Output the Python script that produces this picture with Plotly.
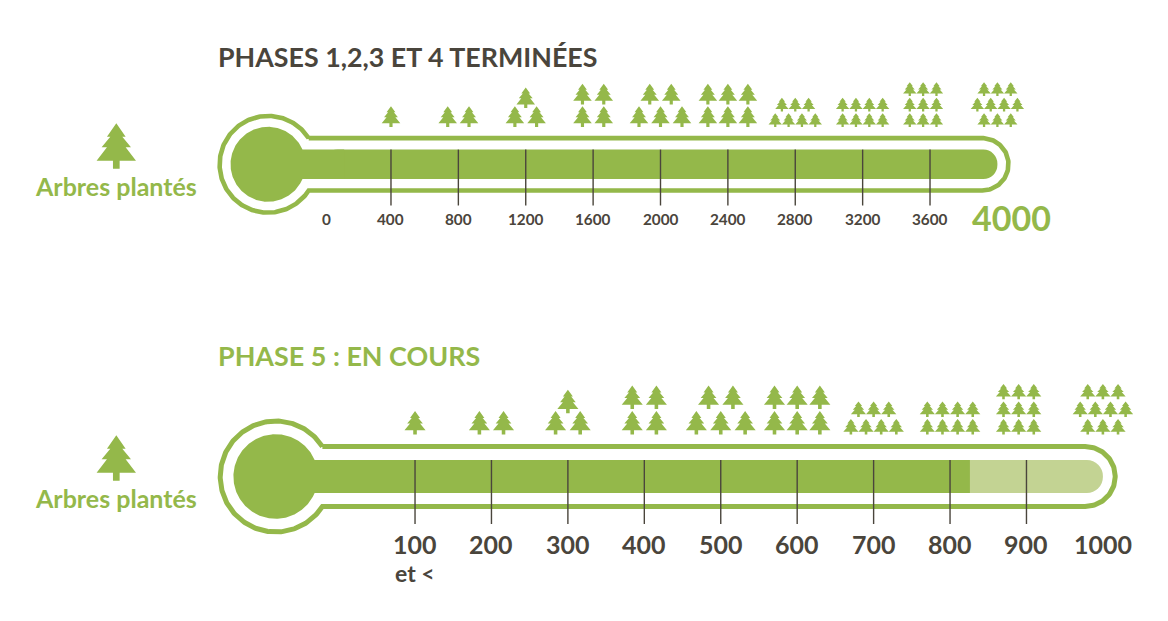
import numpy as np
import plotly.graph_objects as go

GREEN = "#94b84a"
LIGHT = "#c3d393"
DARK = "#4a453c"
FONT = "Lato"

title_top = "PHASES 1,2,3 ET 4 TERMINÉES"
title_bottom = "PHASE 5 : EN COURS"
unit_label = "Arbres plantés"

ticks_top = [400, 800, 1200, 1600, 2000, 2400, 2800, 3200, 3600]
labels_top = ["0", "400", "800", "1200", "1600", "2000", "2400", "2800", "3200", "3600", "4000"]
trees_top = [1, 2, 3, 4, 5, 6, 7, 8, 9, 10]
tree_ticks_top = [400, 800, 1200, 1600, 2000, 2400, 2800, 3200, 3600, 4000]
total_top = [4000]

ticks_bottom = [100, 200, 300, 400, 500, 600, 700, 800, 900]
labels_bottom = ["100", "200", "300", "400", "500", "600", "700", "800", "900", "1000"]
trees_bottom = [1, 2, 3, 4, 5, 6, 7, 8, 9, 10]
tree_ticks_bottom = [100, 200, 300, 400, 500, 600, 700, 800, 900, 1000]
capacity_bottom = [1000]
current_bottom = [826]

ROWS = {1: [1], 2: [2], 3: [1, 2], 4: [2, 2], 5: [2, 3], 6: [3, 3], 7: [3, 4], 8: [4, 4], 9: [3, 3, 3], 10: [3, 4, 3]}

# pixel geometry of the two thermometers
W, H = 1168, 621
top = dict(zero=323.6, ppu=0.16845, cx=268, cy=164.3, r_ring=48.4, r_bulb=37.5, half=26.2, arc_x=982.3, lw=4.6,
           bar_h=29.4, tick_end=205.5, base=126.9, scale=1.0)
bot = dict(zero=338.6, ppu=0.7643, cx=275.7, cy=476.5, r_ring=55.5, r_bulb=42.3, half=30, arc_x=1085.2, lw=5,
           bar_h=33, tick_end=524, base=434.5, scale=1.134)

# tree outline, half-width 1 and height 1 from apex to trunk foot
_tree_right = [(0, 0), (28, 40), (18, 40), (44, 72), (28, 72), (59, 112), (10, 112), (10, 136)]
TREE_X = [p[0] / 59 for p in _tree_right] + [-p[0] / 59 for p in reversed(_tree_right)]
TREE_Y = [p[1] / 136 for p in _tree_right] + [p[1] / 136 for p in reversed(_tree_right)]


def tree_xy(cx, ytop, width, height):
    xs = [cx + width / 2 * v for v in TREE_X] + [None]
    ys = [ytop + height * v for v in TREE_Y] + [None]
    return xs, ys


def to_value(px, g):
    return (np.asarray(px, dtype=float) - g["zero"]) / g["ppu"]


def tree_trace(tick, count, g, axis):
    rows = ROWS[count]
    s = g["scale"]
    small = count >= 7
    w = (13.4 if small else 18.6) * s
    h = (13.6 if small else 20.7) * s
    step_y = (15.5 if small else 22.5) * s
    if count == 3:
        step_y = 18.8 * s
        step_x = 21.7 * s
    elif count == 5:
        step_x = 21.5 * s
    elif count == 6:
        step_x = 20 * s
    elif small:
        step_x = 13.35 * s
    else:
        step_x = 21.3 * s
    shift = -6.9 * s if count == 9 else 0
    cx0 = g["zero"] + tick * g["ppu"] + shift
    X, Y = [], []
    n = len(rows)
    for i, k in enumerate(rows):
        ytop = g["base"] - h - (n - 1 - i) * step_y
        for j in range(k):
            xs, ys = tree_xy(cx0 + (j - (k - 1) / 2) * step_x, ytop, w, h)
            X += xs
            Y += ys
    xv = [None if v is None else float(to_value(v, g)) for v in X]
    return go.Scatter(x=xv, y=Y, xaxis=axis, yaxis="y", mode="lines", fill="toself", fillcolor=GREEN,
                      line=dict(width=0, color=GREEN), hoverinfo="skip", name=f"{tick}")


def ring_trace(g, axis):
    dx = np.sqrt(g["r_ring"] ** 2 - g["half"] ** 2)
    a0 = np.arctan2(g["half"], dx)
    th_c = np.linspace(a0, 2 * np.pi - a0, 240)
    cx_x = g["cx"] + g["r_ring"] * np.cos(th_c)
    cx_y = g["cy"] - g["r_ring"] * np.sin(th_c)
    th_r = np.linspace(np.pi / 2, -np.pi / 2, 80)
    ax = g["arc_x"] + g["half"] * np.cos(th_r)
    ay = g["cy"] - g["half"] * np.sin(th_r)
    px = np.r_[cx_x, ax[::-1], cx_x[0]]
    py = np.r_[cx_y, ay[::-1], cx_y[0]]
    return go.Scatter(x=to_value(px, g), y=py, xaxis=axis, yaxis="y", mode="lines",
                      line=dict(color=GREEN, width=g["lw"]), hoverinfo="skip")


def bulb_trace(g, axis):
    half = g["bar_h"] / 2
    dx = np.sqrt(g["r_bulb"] ** 2 - half ** 2)
    a0 = np.arctan2(half, dx)
    th = np.linspace(a0, 2 * np.pi - a0, 240)
    px = g["cx"] + g["r_bulb"] * np.cos(th)
    py = g["cy"] - g["r_bulb"] * np.sin(th)
    # the neck runs far enough into the bar to cover the bar's rounded left end
    neck = g["zero"] + g["bar_h"] * 0.7
    px = np.r_[px, neck, neck, px[0]]
    py = np.r_[py, g["cy"] + half, g["cy"] - half, py[0]]
    return go.Scatter(x=to_value(px, g), y=py, xaxis=axis, yaxis="y", mode="lines", fill="toself",
                      fillcolor=GREEN, line=dict(width=0, color=GREEN), hoverinfo="skip")


def tick_trace(ticks, g, axis):
    xs, ys = [], []
    y0 = g["cy"] - g["bar_h"] / 2
    for t in ticks:
        xs += [t, t, None]
        ys += [y0, g["tick_end"], None]
    return go.Scatter(x=xs, y=ys, xaxis=axis, yaxis="y", mode="lines",
                      line=dict(color=DARK, width=1.4), hoverinfo="skip")


fig = go.Figure()

# top thermometer
fig.add_trace(go.Bar(x=total_top, y=[top["cy"]], base=[0], width=[top["bar_h"]], orientation="h", xaxis="x", yaxis="y",
                     marker=dict(color=GREEN, cornerradius=14.7, line=dict(width=0)), hoverinfo="skip"))
fig.add_trace(ring_trace(top, "x"))
fig.add_trace(bulb_trace(top, "x"))
fig.add_trace(tick_trace(ticks_top, top, "x"))
for t, c in zip(tree_ticks_top, trees_top):
    fig.add_trace(tree_trace(t, c, top, "x"))

# bottom thermometer
fig.add_trace(go.Bar(x=capacity_bottom, y=[bot["cy"]], base=[0], width=[bot["bar_h"]], orientation="h", xaxis="x2", yaxis="y",
                     marker=dict(color=LIGHT, cornerradius=16.5, line=dict(width=0)), hoverinfo="skip"))
fig.add_trace(go.Scatter(x=[0, current_bottom[0], current_bottom[0], 0, 0],
                         y=[bot["cy"] - bot["bar_h"] / 2, bot["cy"] - bot["bar_h"] / 2,
                            bot["cy"] + bot["bar_h"] / 2, bot["cy"] + bot["bar_h"] / 2, bot["cy"] - bot["bar_h"] / 2],
                         xaxis="x2", yaxis="y", mode="lines", fill="toself", fillcolor=GREEN,
                         line=dict(width=0, color=GREEN), hoverinfo="skip"))
fig.add_trace(ring_trace(bot, "x2"))
fig.add_trace(bulb_trace(bot, "x2"))
fig.add_trace(tick_trace(ticks_bottom, bot, "x2"))
for t, c in zip(tree_ticks_bottom, trees_bottom):
    fig.add_trace(tree_trace(t, c, bot, "x2"))

# legend trees beside each thermometer
for ytop, g, axis in [(123.3, top, "x"), (435.3, bot, "x2")]:
    xs, ys = tree_xy(116.3, ytop, 39.4, 45.4)
    fig.add_trace(go.Scatter(x=[None if v is None else float(to_value(v, g)) for v in xs], y=ys, xaxis=axis, yaxis="y",
                             mode="lines", fill="toself", fillcolor=GREEN, line=dict(width=0, color=GREEN),
                             hoverinfo="skip"))

ann = []


def text(x, y, s, size, color, xref="paper", anchor="center", xshift=0, weight=700):
    ann.append(dict(x=x, y=y, text=s, xref=xref, yref="y", xanchor=anchor, yanchor="middle", showarrow=False,
                    xshift=xshift, borderpad=0, font=dict(family=FONT, size=size, color=color, weight=weight)))


text(216.8 / W, 56.5, title_top, 26.8, DARK, anchor="left")
text(216.8 / W, 355.5, title_bottom, 26.9, GREEN, anchor="left")
text(116 / W, 185.5, unit_label, 25, GREEN)
text(116 / W, 497.5, unit_label, 25, GREEN)

for i, s in enumerate(labels_top[:-1]):
    text(i * 400, 218.5, s, 15.3, DARK, xref="x", xshift=2.4 if i == 0 else 0)
text(4000, 217.5, labels_top[-1], 34, GREEN, xref="x", xshift=14)

for i, s in enumerate(labels_bottom):
    text((i + 1) * 100, 544, s, 25, DARK, xref="x2")
text(100, 572.5, "et &lt;", 23, DARK, xref="x2")

hidden = dict(visible=False, showgrid=False, zeroline=False, fixedrange=True)
fig.update_layout(
    width=W, height=H, autosize=False,
    margin=dict(l=0, r=0, t=0, b=0, pad=0),
    paper_bgcolor="white", plot_bgcolor="white",
    showlegend=False, hovermode=False, barmode="overlay",
    xaxis=dict(range=[-top["zero"] / top["ppu"], (W - top["zero"]) / top["ppu"]], domain=[0, 1], anchor="y", **hidden),
    xaxis2=dict(range=[-bot["zero"] / bot["ppu"], (W - bot["zero"]) / bot["ppu"]], domain=[0, 1], anchor="y",
                overlaying="x", **hidden),
    yaxis=dict(range=[H, 0], domain=[0, 1], anchor="x", **hidden),
    annotations=ann,
)

fig.write_html("out.html", config=dict(displayModeBar=False),
               post_script="document.body.style.margin='0';")
